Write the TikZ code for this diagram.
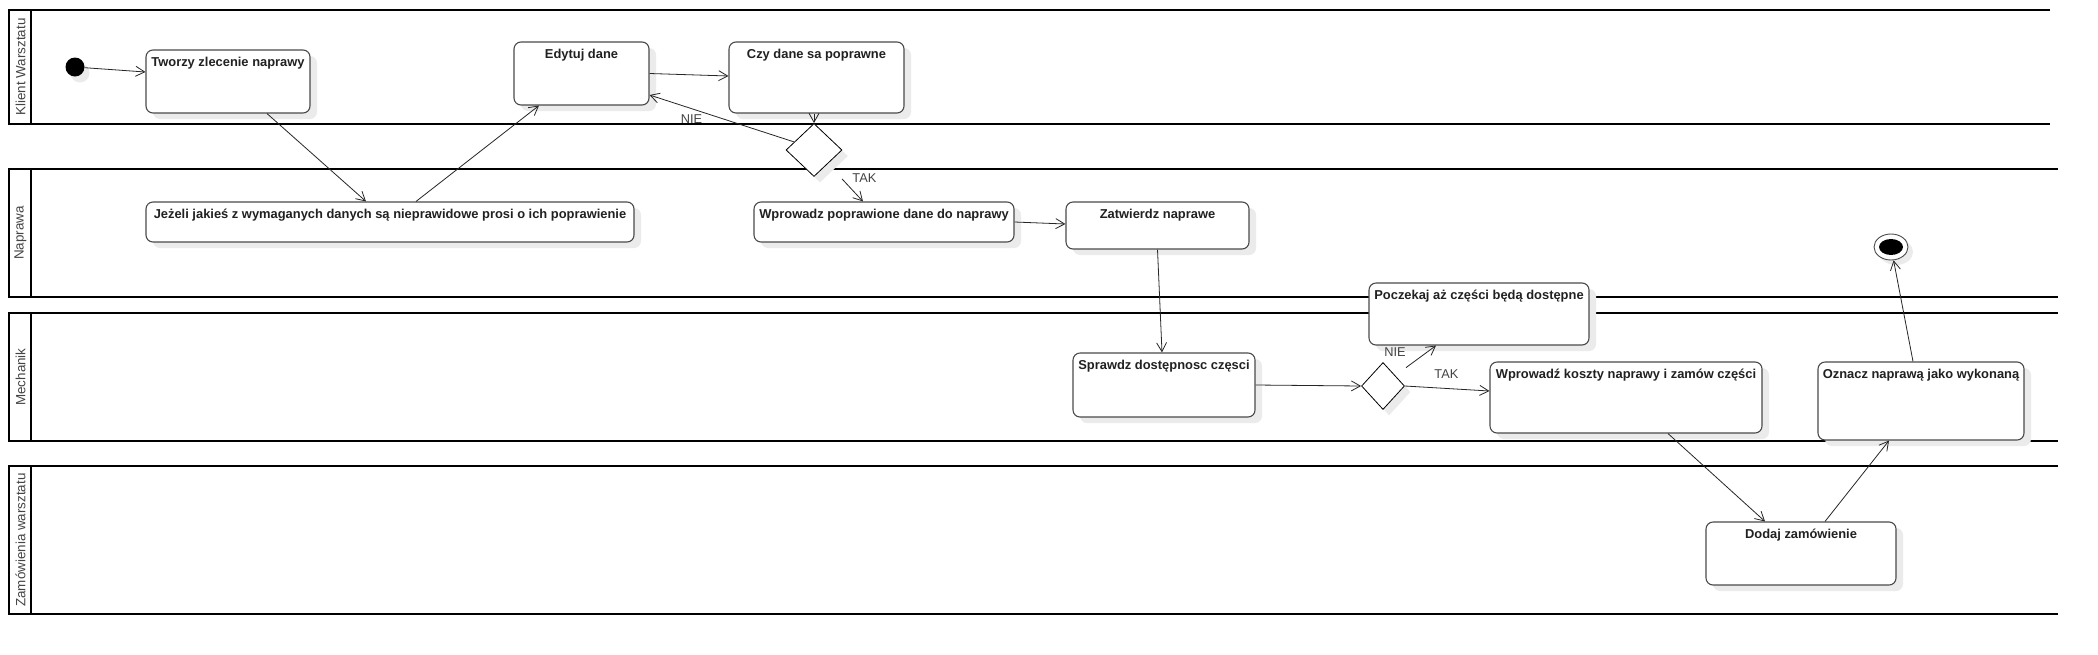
\documentclass[tikz,border=0pt]{standalone}
\usepackage{fontspec}
\setmainfont{Liberation Sans}
\usetikzlibrary{shapes.geometric,shadows,arrows.meta,calc}
\definecolor{boxline}{HTML}{4A4A4A}
\definecolor{shad}{HTML}{EBEBEB}
\definecolor{lbl}{HTML}{444444}
\newcommand\actnode[6]{%
  \node[actbox,minimum width=#4-#2,minimum height=#5-#3] (#1) at ({(#2+#4)/2},{(#3+#5)/2}) {};
  \node[boxtxt] (#1t) at ([yshift=-17pt]#1.north) {#6};}
\begin{document}
\begin{tikzpicture}[x=1pt,y=-1pt,
  lane/.style={line width=1.7pt,draw=black,line join=miter},
  lanelbl/.style={rotate=90,text=lbl,font=\fontsize{13.4}{15}\selectfont,inner sep=0pt},
  actbox/.style={draw=boxline,line width=1.1pt,rounded corners=7pt,fill=white,inner sep=0pt,
     drop shadow={shadow xshift=7pt,shadow yshift=-6pt,fill=shad,opacity=1}},
  boxtxt/.style={font=\fontsize{12.9}{15}\selectfont\bfseries,text=black!87,inner sep=0pt,anchor=base},
  decision/.style={diamond,draw=black,fill=white,line width=0.8pt,inner sep=0pt,
     drop shadow={shadow xshift=6pt,shadow yshift=-6pt,fill=shad,opacity=1}},
  conn/.style={draw=black!85,line width=0.8pt,-{Straight Barb[length=9pt,width=10pt,line width=0.8pt]}},
  guard/.style={text=lbl,font=\fontsize{12.8}{14}\selectfont,inner sep=0pt}]
\useasboundingbox[fill=white] (0,0) rectangle (2098,654);

% swimlanes
\draw[lane] (2050,10) -- (9,10) -- (9,124) -- (2050,124); \draw[lane] (31,10) -- (31,124);
\draw[lane] (2058,169) -- (9,169) -- (9,297) -- (2058,297); \draw[lane] (31,169) -- (31,297);
\draw[lane] (2058,313) -- (9,313) -- (9,441) -- (2058,441); \draw[lane] (31,313) -- (31,441);
\draw[lane] (2058,466) -- (9,466) -- (9,614) -- (2058,614); \draw[lane] (31,466) -- (31,614);
\node[lanelbl] (l1) at (20.5,67) {Klient Warsztatu};
\node[lanelbl] (l2) at (20.5,233) {Naprawa};
\node[lanelbl] (l3) at (20.5,377) {Mechanik};
\node[lanelbl] (l4) at (20.5,540) {Zamówienia warsztatu};

% start / end
\node[circle,fill=black,minimum size=19pt,inner sep=0pt,
  drop shadow={shadow xshift=5pt,shadow yshift=-6pt,fill=shad,opacity=1}] (start) at (75,67) {};
\node[ellipse,draw=boxline,fill=white,line width=0.9pt,minimum width=34pt,minimum height=26pt,inner sep=0pt,
  drop shadow={shadow xshift=5pt,shadow yshift=-5pt,fill=shad,opacity=1}] (end) at (1891,247) {};
\node[ellipse,fill=black,minimum width=24pt,minimum height=16pt,inner sep=0pt] (endin) at (end.center) {};

% activities
\actnode{tworzy}{146}{50}{310}{113}{Tworzy zlecenie naprawy}
\actnode{edytuj}{514}{42}{649}{105}{Edytuj dane}
\actnode{czy}{729}{42}{904}{113}{Czy dane sa poprawne}
\actnode{jezeli}{146}{202}{634}{242}{Jeżeli jakieś z wymaganych danych są nieprawidowe prosi o ich poprawienie}
\actnode{wprow1}{754}{202}{1014}{242}{Wprowadz poprawione dane do naprawy}
\actnode{zatw}{1066}{202}{1249}{249}{Zatwierdz naprawe}
\actnode{sprawdz}{1073}{353}{1255}{417}{Sprawdz dostępnosc częsci}
\actnode{poczekaj}{1369}{283}{1589}{345}{Poczekaj aż części będą dostępne}
\actnode{wprow2}{1490}{362}{1762}{433}{Wprowadź koszty naprawy i zamów części}
\actnode{dodaj}{1706}{522}{1896}{585}{Dodaj zamówienie}
\actnode{oznacz}{1818}{362}{2024}{440}{Oznacz naprawą jako wykonaną}

% decisions
\node[decision,minimum width=56pt,minimum height=53pt] (d1) at (814,150) {};
\node[decision,minimum width=43pt,minimum height=47pt] (d2) at (1383,386) {};

% flows
\draw[conn] (start) -- ([yshift=9.5pt]tworzy.west);
\draw[conn] ([xshift=39pt]tworzy.south) -- ([xshift=-24pt]jezeli.north);
\draw[conn] ([xshift=26pt]jezeli.north) -- ([xshift=-42.5pt]edytuj.south);
\draw[conn] (edytuj.east) -- ([yshift=1.5pt]czy.west);
\draw[conn] (d1.north |- czy.south) -- (d1.north);
\draw[conn] ($(d1.west)!0.3!(d1.north)$) -- node[guard,pos=0.71,below=6pt] (nie1) {NIE} ([yshift=-21.5pt]edytuj.east);
\draw[conn] ([xshift=28pt,yshift=-2pt]d1.south) -- node[guard,pos=0,anchor=west,xshift=10pt,yshift=1pt] (tak1) {TAK} ([xshift=-21pt]wprow1.north);
\draw[conn] (wprow1.east) -- ([yshift=1.5pt]zatw.west);
\draw[conn] (zatw.south) -- ([xshift=-2pt]sprawdz.north);
\draw[conn] (sprawdz.east) -- (d2.west);
\draw[conn] ([xshift=23pt,yshift=-5.5pt]d2.north) -- node[guard,pos=0,anchor=south east,yshift=11pt] (nie2) {NIE} ([xshift=-43pt]poczekaj.south);
\draw[conn] (d2.east) -- node[guard,pos=0.49,above=10pt] (tak2) {TAK} ([yshift=6.5pt]wprow2.west);
\draw[conn] ([xshift=42pt]wprow2.south) -- ([xshift=-36pt]dodaj.north);
\draw[conn] ([xshift=24pt]dodaj.north) -- ([xshift=-32pt]oznacz.south);
\draw[conn] ([xshift=-8pt]oznacz.north) -- (end);
\end{tikzpicture}
\end{document}
